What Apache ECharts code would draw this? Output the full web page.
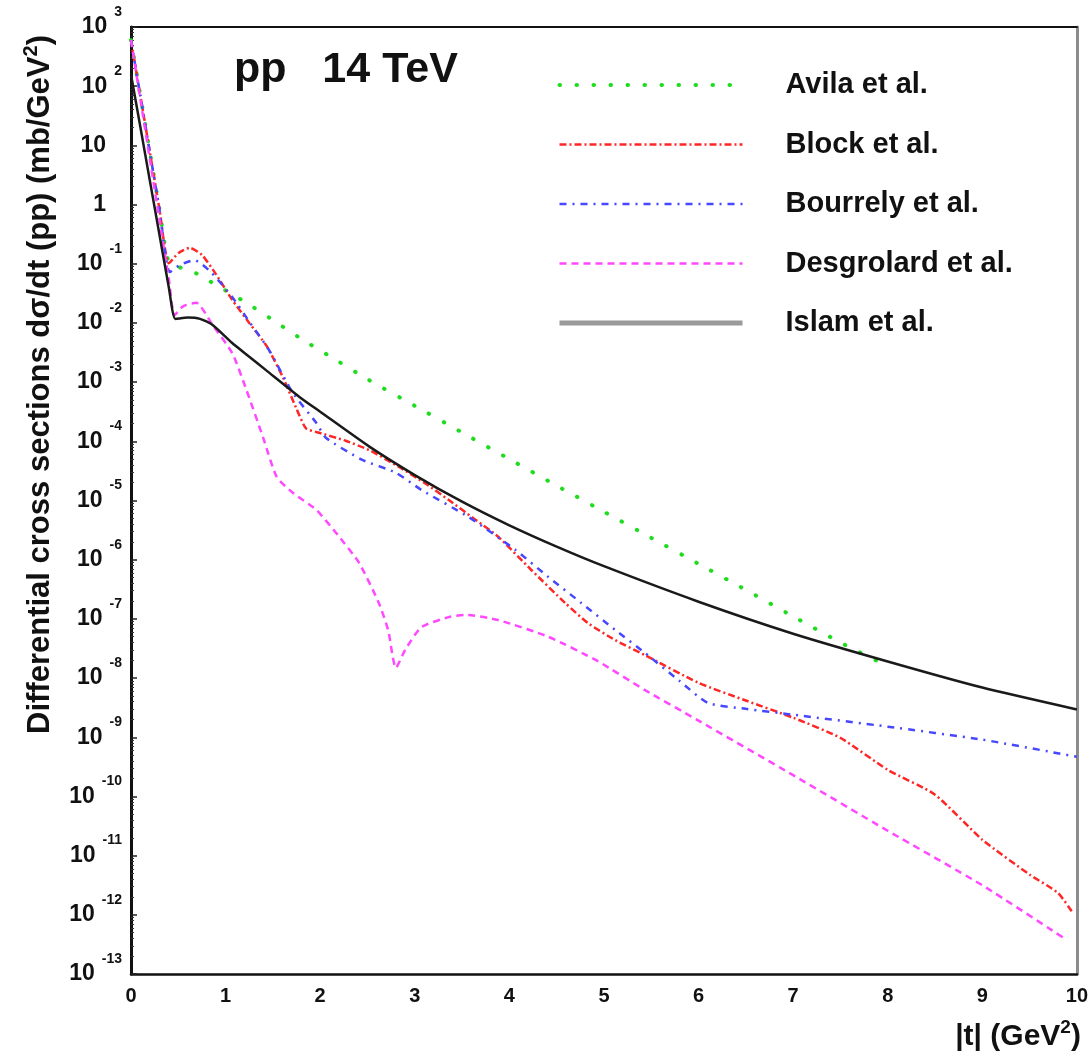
<!DOCTYPE html>
<html>
<head>
<meta charset="utf-8">
<title>pp 14 TeV differential cross sections</title>
<script src="https://cdn.jsdelivr.net/npm/echarts@6/dist/echarts.min.js"></script>
<style>
  html, body { margin: 0; padding: 0; background: #ffffff; }
  #chart { width: 1091px; height: 1056px; }
</style>
</head>
<body>
<div id="chart"></div>
<script>
// Model curves for dσ/dt of pp scattering at 14 TeV, |t| in GeV², dσ/dt in mb/GeV².
const seriesNames = ['Avila et al.', 'Block et al.', 'Bourrely et al.', 'Desgrolard et al.', 'Islam et al.'];

const avilaT = [0, 0.1, 0.2, 0.3, 0.4, 0.55, 0.7, 0.9, 1.2, 1.5, 1.8, 2.1, 2.5, 3.0, 3.5, 4.0, 4.5, 5.0, 5.5, 6.0, 6.5, 7.0, 7.5, 7.9];
const avilaV = [600, 67.6, 7.59, 0.851, 0.105, 0.0832, 0.0676, 0.0437, 0.0229, 0.0112, 0.00537, 0.00275, 0.00112,
  3.98e-4, 1.41e-4, 5.01e-5, 1.78e-5, 6.46e-6, 2.34e-6, 8.51e-7, 3.09e-7, 1.10e-7, 3.98e-8, 1.91e-8];

const blockT = [0, 0.1, 0.2, 0.3, 0.4, 0.5, 0.62, 0.75, 0.9, 1.07, 1.25, 1.43, 1.6, 1.75, 1.85, 2.0, 2.27, 2.52, 2.83,
  3.1, 3.36, 3.62, 3.88, 4.23, 4.59, 4.83, 5.12, 5.43, 6.0, 6.5, 7.0, 7.5, 8.0, 8.5, 9.0, 9.5, 9.8, 9.95];
const blockV = [600, 67.6, 7.59, 0.851, 0.102, 0.151, 0.186, 0.141, 0.0661, 0.0245, 0.01, 0.00417, 0.00126, 3.55e-4,
  1.66e-4, 1.38e-4, 1.02e-4, 7.08e-5, 3.72e-5, 2.0e-5, 1.02e-5, 5.01e-6, 2.45e-6, 6.76e-7, 1.86e-7, 8.51e-8, 4.37e-8,
  2.45e-8, 8.32e-9, 4.17e-9, 2.14e-9, 9.77e-10, 2.82e-10, 1.07e-10, 1.86e-11, 4.79e-12, 2.34e-12, 1.12e-12];

const bourrelyT = [0, 0.1, 0.2, 0.3, 0.41, 0.52, 0.67, 0.85, 1.07, 1.25, 1.46, 1.71, 1.96, 2.06, 2.44, 2.8, 3.07, 3.57,
  4.06, 4.41, 4.76, 5.12, 5.43, 5.8, 6.1, 6.5, 7.0, 8.0, 9.0, 10.0];
const bourrelyV = [600, 67.6, 7.59, 0.851, 0.0724, 0.0955, 0.115, 0.0708, 0.0275, 0.0105, 0.00347, 6.61e-4, 2.04e-4,
  1.15e-4, 4.9e-5, 2.95e-5, 1.51e-5, 5.25e-6, 1.48e-6, 5.13e-7, 1.86e-7, 6.46e-8, 2.69e-8, 8.91e-9, 3.8e-9, 3.02e-9,
  2.4e-9, 1.51e-9, 9.12e-10, 4.68e-10];

const desgrolardT = [0, 0.1, 0.2, 0.3, 0.4, 0.46, 0.55, 0.69, 0.86, 1.07, 1.22, 1.4, 1.54, 1.71, 1.96, 2.2, 2.41, 2.62,
  2.72, 2.8, 2.9, 3.07, 3.36, 3.53, 3.88, 4.41, 4.94, 5.43, 6.0, 7.0, 8.0, 9.0, 9.85];
const desgrolardV = [600, 58.9, 5.75, 0.562, 0.055, 0.0135, 0.0191, 0.0219, 0.00933, 0.00309, 7.41e-4, 1.12e-4, 2.51e-5,
  1.35e-5, 6.92e-6, 2.45e-6, 8.91e-7, 1.86e-7, 6.31e-8, 1.48e-8, 3.02e-8, 7.24e-8, 1.07e-7, 1.17e-7, 9.55e-8, 5.01e-8,
  1.91e-8, 6.31e-9, 1.91e-9, 2.29e-10, 2.63e-11, 3.16e-12, 4.17e-13];

const islamT = [0, 0.1, 0.2, 0.3, 0.4, 0.47, 0.6, 0.73, 0.86, 1.07, 1.25, 1.43, 1.78, 2.0, 2.52, 3.0, 3.5, 4.0, 4.5,
  5.0, 6.0, 7.0, 8.0, 9.0, 10.0];
const islamV = [158, 20, 2.51, 0.316, 0.0398, 0.0117, 0.0123, 0.0117, 0.00933, 0.00457, 0.00269, 0.00158, 5.62e-4,
  3.16e-4, 8.13e-5, 2.69e-5, 9.55e-6, 3.80e-6, 1.66e-6, 7.76e-7, 1.95e-7, 5.62e-8, 1.91e-8, 6.92e-9, 2.95e-9];

const xTicks = [0, 1, 2, 3, 4, 5, 6, 7, 8, 9, 10];
const yDecades = [-13, 3];

const NARROW = '"Liberation Sans Narrow", "Arial Narrow", "Liberation Sans", Arial, sans-serif';
const SANS = '"Liberation Sans", Arial, Helvetica, sans-serif';

function pairs(ts, vs) { return ts.map((t, i) => [t, vs[i]]); }

const lineStyles = [
  { color: '#1fdc1f', width: 4, type: [0.5, 16.5], cap: 'round' },
  { color: '#ff2626', width: 2.5, type: [7, 3, 2, 3] },
  { color: '#4747ff', width: 2.5, type: [7, 6, 2, 6] },
  { color: '#ff48ff', width: 2.5, type: [7, 5] },
  { color: '#1a1a1a', width: 2.5, type: 'solid' }
];
const seriesData = [
  pairs(avilaT, avilaV),
  pairs(blockT, blockV),
  pairs(bourrelyT, bourrelyV),
  pairs(desgrolardT, desgrolardV),
  pairs(islamT, islamV)
];

const chart = echarts.init(document.getElementById('chart'), null, { renderer: 'canvas' });

const yMin = Math.pow(10, yDecades[0]);
const yMax = Math.pow(10, yDecades[1]);

chart.setOption({
  animation: false,
  backgroundColor: '#ffffff',
  title: {
    text: 'pp   14 TeV',
    left: 229,
    top: 44,
    textStyle: { fontFamily: SANS, fontSize: 43, fontWeight: 'bold', color: '#111' }
  },
  legend: {
    orient: 'vertical',
    left: 557,
    top: 59,
    padding: 0,
    itemWidth: 183,
    itemHeight: 10,
    itemGap: 7.5,
    selectedMode: false,
    // legend keys are plain line samples, no centre marker
    itemStyle: { color: 'rgba(0,0,0,0)', borderWidth: 0, opacity: 0 },
    textStyle: {
      fontFamily: SANS, fontSize: 29, fontWeight: 'bold', color: '#111',
      lineHeight: 30, padding: [0, 0, 22, 38]
    },
    data: seriesNames.map((n, i) => ({
      name: n,
      lineStyle: i === 4 ? { color: '#9a9a9a', width: 5, type: 'solid' } : { width: lineStyles[i].width }
    }))
  },
  grid: { left: 131, right: 10, top: 27, bottom: 82, containLabel: false },
  xAxis: [
    {
      type: 'value', min: xTicks[0], max: xTicks[xTicks.length - 1], interval: 1,
      name: '|t| (GeV{s|2})',
      nameLocation: 'end',
      nameGap: 4,
      nameTextStyle: {
        fontFamily: SANS, fontSize: 30, fontWeight: 'bold', color: '#111',
        align: 'right', verticalAlign: 'top', padding: [44, 0, 0, 0],
        rich: { s: { fontFamily: SANS, fontSize: 19, fontWeight: 'bold', color: '#111', padding: [0, 0, 18, 0] } }
      },
      axisLine: { show: true, onZero: false, lineStyle: { color: '#111', width: 2.5 } },
      axisTick: { show: false },
      splitLine: { show: false },
      axisLabel: { margin: 12, fontFamily: NARROW, fontSize: 20, fontWeight: 'bold', color: '#111' }
    },
    {
      type: 'value', position: 'top', min: xTicks[0], max: xTicks[xTicks.length - 1], interval: 1,
      axisLine: { show: true, onZero: false, lineStyle: { color: '#111', width: 2 } },
      axisTick: { show: false }, axisLabel: { show: false }, splitLine: { show: false }
    }
  ],
  yAxis: [
    {
      type: 'log', logBase: 10, min: yMin, max: yMax, interval: 1,
      name: 'Differential cross sections dσ/dt (pp) (mb/GeV{s|2})',
      nameLocation: 'middle',
      nameGap: 72,
      nameTextStyle: {
        fontFamily: SANS, fontSize: 31, fontWeight: 'bold', color: '#111',
        padding: [0, 0, 0, 232],
        rich: { s: { fontFamily: SANS, fontSize: 20, fontWeight: 'bold', color: '#111', padding: [0, 0, 18, 0] } }
      },
      axisLine: { show: true, onZero: false, lineStyle: { color: '#111', width: 3 } },
      axisTick: { show: true, inside: true, length: 6, lineStyle: { color: '#222', width: 1.5 } },
      minorTick: { show: true, splitNumber: 9, length: 3, lineStyle: { color: '#333', width: 1 } },
      splitLine: { show: false },
      axisLabel: {
        interval: 0,
        margin: 9,
        formatter: function (v) {
          const e = Math.round(Math.log10(v));
          if (e === 1) return '{p|10}';
          if (e === 0) return '{p|1}';
          return '{b|10}{e|' + e + '}';
        },
        rich: {
          b: { fontFamily: NARROW, fontSize: 23, fontWeight: 'bold', color: '#111' },
          p: { fontFamily: NARROW, fontSize: 23, fontWeight: 'bold', color: '#111', padding: [0, 16, 0, 0] },
          e: { fontFamily: NARROW, fontSize: 14, fontWeight: 'bold', color: '#111', padding: [0, 0, 30, 7] }
        }
      }
    },
    {
      type: 'log', logBase: 10, min: yMin, max: yMax, position: 'right',
      axisLine: { show: true, onZero: false, lineStyle: { color: '#8c8c8c', width: 3 } },
      axisTick: { show: false }, axisLabel: { show: false }, splitLine: { show: false }
    }
  ],
  series: seriesNames.map((n, i) => ({
    name: n,
    type: 'line',
    xAxisIndex: 0,
    yAxisIndex: 0,
    data: seriesData[i],
    symbol: 'none',
    smooth: 0.2,
    color: lineStyles[i].color,
    lineStyle: lineStyles[i],
    z: i === 4 ? 3 : 2
  }))
});
</script>
</body>
</html>
